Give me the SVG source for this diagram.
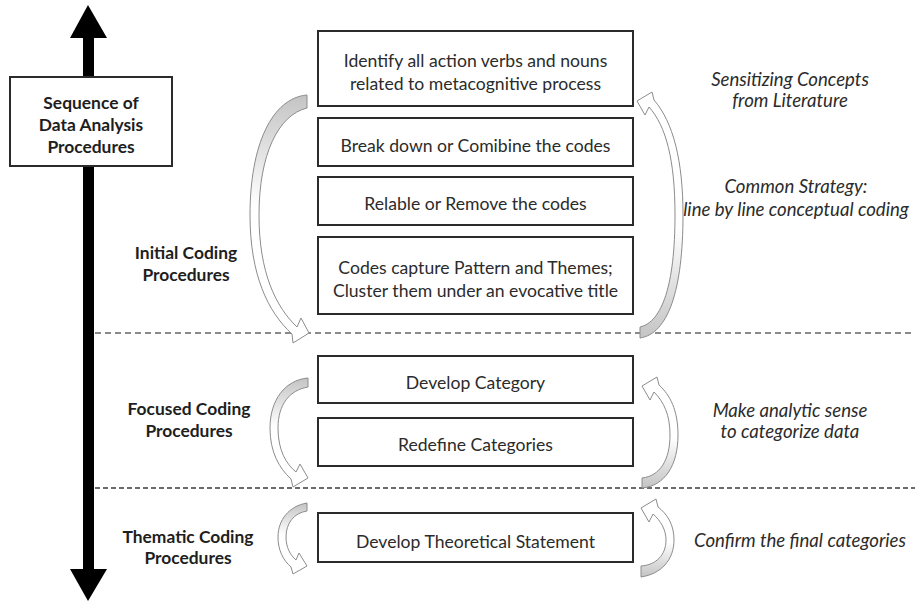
<svg xmlns="http://www.w3.org/2000/svg" width="915" height="602" viewBox="0 0 915 602">
  <defs>
    <linearGradient id="fadeDown" x1="0" y1="0" x2="0" y2="1">
      <stop offset="0" stop-color="#c4c4c4"/>
      <stop offset="0.45" stop-color="#ffffff"/>
      <stop offset="1" stop-color="#ffffff"/>
    </linearGradient>
    <linearGradient id="fadeUp" x1="0" y1="1" x2="0" y2="0">
      <stop offset="0" stop-color="#c4c4c4"/>
      <stop offset="0.45" stop-color="#ffffff"/>
      <stop offset="1" stop-color="#ffffff"/>
    </linearGradient>
    <style>
      .box { fill: #ffffff; stroke: #2b2b2b; stroke-width: 2; }
      .txt { font-family: Lato, "Liberation Sans", sans-serif; font-size: 17.6px; fill: #2b2b2b; text-anchor: middle; }
      .lbl { font-family: Lato, "Liberation Sans", sans-serif; font-size: 17.4px; font-weight: bold; fill: #1e1e1e; text-anchor: middle; }
      .note { font-family: Lato, "Liberation Sans", sans-serif; font-size: 18.6px; font-style: italic; fill: #2b2b2b; text-anchor: middle; }
      .curveL { fill: url(#fadeDown); stroke: #8c8c8c; stroke-width: 1; stroke-linejoin: round; }
      .curveR { fill: url(#fadeUp); stroke: #8c8c8c; stroke-width: 1; stroke-linejoin: round; }
      .sep1 { stroke: #8a8a8a; stroke-width: 2; stroke-dasharray: 6 4; fill: none; }
      .sep2 { stroke: #3a3a3a; stroke-width: 1.5; stroke-dasharray: 5 3; fill: none; }
    </style>
  </defs>

  <!-- phase separators -->
  <g id="separators">
    <line class="sep1" x1="95" y1="333" x2="915" y2="333"/>
    <line class="sep2" x1="95" y1="488" x2="915" y2="488"/>
  </g>

  <!-- time axis with arrowheads at both ends -->
  <g id="sequence-axis">
    <rect x="83" y="36" width="11" height="536" fill="#000000"/>
    <polygon points="88,5 107,38 70,38" fill="#000000"/>
    <polygon points="88,601 107,569 70,569" fill="#000000"/>
  </g>

  <g id="sequence-title">
    <rect class="box" x="10" y="77" width="162" height="89"/>
    <text class="lbl" x="91" y="109">Sequence of</text>
    <text class="lbl" x="91" y="131">Data Analysis</text>
    <text class="lbl" x="91" y="153">Procedures</text>
  </g>

  <!-- phase labels -->
  <g id="label-initial">
    <text class="lbl" x="186" y="259">Initial Coding</text>
    <text class="lbl" x="186" y="281">Procedures</text>
  </g>
  <g id="label-focused">
    <text class="lbl" x="189" y="415">Focused Coding</text>
    <text class="lbl" x="189" y="437">Procedures</text>
  </g>
  <g id="label-thematic">
    <text class="lbl" x="188" y="543">Thematic Coding</text>
    <text class="lbl" x="188" y="564">Procedures</text>
  </g>

  <!-- procedure steps -->
  <g id="step-identify">
    <rect class="box" x="318" y="31" width="315" height="75"/>
    <text class="txt" x="475.5" y="67">Identify all action verbs and nouns</text>
    <text class="txt" x="475.5" y="90">related to metacognitive process</text>
  </g>
  <g id="step-break">
    <rect class="box" x="318" y="118" width="315" height="48"/>
    <text class="txt" x="475.5" y="152">Break down or Comibine the codes</text>
  </g>
  <g id="step-relable">
    <rect class="box" x="318" y="177" width="315" height="48"/>
    <text class="txt" x="475.5" y="210">Relable or Remove the codes</text>
  </g>
  <g id="step-cluster">
    <rect class="box" x="318" y="237" width="315" height="77"/>
    <text class="txt" x="475.5" y="274">Codes capture Pattern and Themes;</text>
    <text class="txt" x="475.5" y="297">Cluster them under an evocative title</text>
  </g>
  <g id="step-category">
    <rect class="box" x="318" y="356" width="315" height="47"/>
    <text class="txt" x="475.5" y="389">Develop Category</text>
  </g>
  <g id="step-redefine">
    <rect class="box" x="318" y="418" width="315" height="48"/>
    <text class="txt" x="475.5" y="451">Redefine Categories</text>
  </g>
  <g id="step-theory">
    <rect class="box" x="318" y="513" width="315" height="49"/>
    <text class="txt" x="475.5" y="548">Develop Theoretical Statement</text>
  </g>

  <!-- side notes -->
  <g id="note-sensitizing">
    <text class="note" x="790" y="86">Sensitizing Concepts</text>
    <text class="note" x="790" y="107">from Literature</text>
  </g>
  <g id="note-strategy">
    <text class="note" x="796" y="193">Common Strategy:</text>
    <text class="note" x="796" y="216">line by line conceptual coding</text>
  </g>
  <g id="note-analytic">
    <text class="note" x="790" y="417">Make analytic sense</text>
    <text class="note" x="790" y="438">to categorize data</text>
  </g>
  <g id="note-confirm">
    <text class="note" x="800" y="547">Confirm the final categories</text>
  </g>

  <!-- curved iteration arrows -->
  <g id="connectors">
    <path class="curveL" d="M307,95 C272,98 250,145 250,215 C250,275 268,312 292,334 L293,343 L309,333 L301,318 L297,327 C276,307 259,273 259,215 C259,155 278,115 307,108 Z"/>
    <path class="curveR" d="M640,338 C668,334 683,290 683,215 C683,160 673,122 654,100 L652,92 L637,101 L645,115 L649,107 C666,126 675,160 675,215 C675,285 662,322 640,327 Z"/>
    <path class="curveL" d="M308,378 C285,380 270,400 270,428 C270,452 279,468 291,479 L293,487 L308,478 L300,464 L296,472 C286,464 278,450 278,428 C278,404 290,390 308,387 Z"/>
    <path class="curveR" d="M642,488 C665,486 678,465 678,435 C678,410 670,395 659,385 L657,377 L642,386 L650,400 L654,392 C664,402 670,415 670,435 C670,460 660,476 642,478 Z"/>
    <path class="curveL" d="M307,503 C289,506 278,520 278,537 C278,550 283,560 291,567 L293,574 L307,566 L299,553 L296,560 C290,555 286,547 286,537 C286,523 294,513 307,511 Z"/>
    <path class="curveR" d="M641,577 C661,574 674,560 674,540 C674,524 667,514 658,507 L656,499 L641,508 L649,522 L653,514 C661,521 666,530 666,540 C666,555 656,565 641,566 Z"/>
  </g>
</svg>
